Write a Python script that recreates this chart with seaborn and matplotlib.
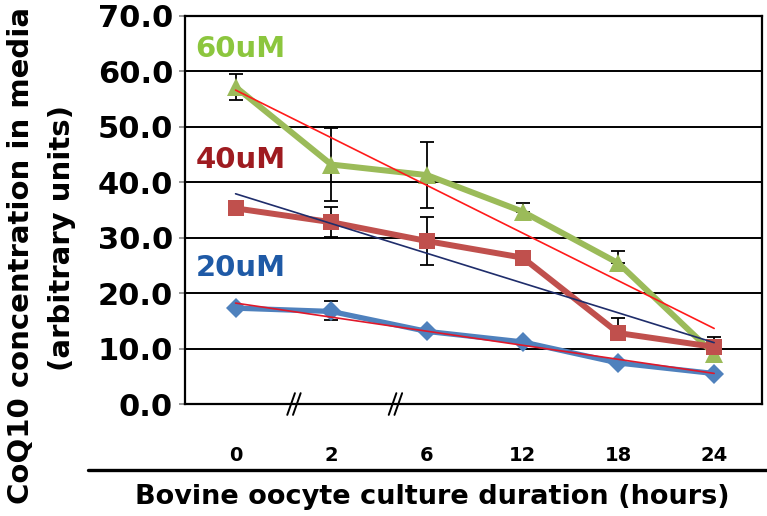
import numpy as np
import pandas as pd
import matplotlib
matplotlib.use("Agg")
import matplotlib.pyplot as plt
import matplotlib.transforms as mtransforms
from matplotlib.lines import Line2D
import seaborn as sns

# data
hours = ["0", "2", "6", "12", "18", "24"]
c60 = [57.2, 43.2, 41.3, 34.7, 25.4, 9.0]
c40 = [35.3, 32.8, 29.4, 26.4, 12.8, 10.3]
c20 = [17.3, 16.7, 13.1, 11.2, 7.4, 5.5]
err60_lo = [2.4, 6.6, 6.0, 0.0, 0.0, 0.0]
err60_hi = [2.4, 6.6, 6.0, 1.5, 2.2, 0.0]
err40_lo = [0.0, 2.7, 4.4, 0.0, 0.0, 0.0]
err40_hi = [0.0, 2.7, 4.3, 0.0, 2.8, 1.8]
err20_lo = [0.4, 1.6, 0.0, 0.0, 0.0, 0.0]
err20_hi = [0.4, 1.8, 0.0, 0.0, 0.0, 0.0]
y_ticks = [0, 10, 20, 30, 40, 50, 60, 70]

idx = np.arange(len(hours))
df = pd.DataFrame({"idx": idx, "c60": c60, "c40": c40, "c20": c20})

sns.set_style("white")
plt.rcParams['font.family'] = ['DejaVu Sans']
plt.rcParams['font.weight'] = 'bold'
plt.rcParams['text.color'] = 'black'
plt.rcParams['xtick.labelcolor'] = 'black'
plt.rcParams['ytick.labelcolor'] = 'black'

fig = plt.figure(figsize=(7.67, 5.16), dpi=100)
ax = fig.add_axes([0.241, 0.217, 0.7525, 0.752])

series = [
    ("c60", "#9BBB59", "^", 13, 4.3, err60_lo, err60_hi, "#FF1A1A"),
    ("c40", "#C0504D", "s", 12, 4.3, err40_lo, err40_hi, "#1F2D6B"),
    ("c20", "#4F81BD", "D", 10, 3.8, err20_lo, err20_hi, "#E0182A"),
]

# gridlines
for v in y_ticks[1:-1]:
    ax.axhline(v, color="black", lw=1.4, zorder=1)

for col, color, mk, ms, lw, elo, ehi, tcol in series:
    ax.errorbar(df["idx"], df[col], yerr=[elo, ehi], fmt="none",
                ecolor="black", elinewidth=1.3, capsize=5, capthick=1.3, zorder=2)
    sns.lineplot(data=df, x="idx", y=col, color=color, marker=mk,
                 markersize=ms, markeredgewidth=0, linewidth=lw, ax=ax, zorder=3)

for col, color, mk, ms, lw, elo, ehi, tcol in series:
    sns.regplot(data=df, x="idx", y=col, scatter=False, ci=None, truncate=True,
                line_kws={"color": tcol, "lw": 1.2, "zorder": 4}, ax=ax)

# concentration labels
ax.text(-0.42, 64.0, "60uM", color="#8CC63E", fontsize=21, fontweight="bold", va="center")
ax.text(-0.42, 44.0, "40uM", color="#9E1B20", fontsize=21, fontweight="bold", va="center")
ax.text(-0.42, 24.5, "20uM", color="#1F5AA6", fontsize=21, fontweight="bold", va="center")

ax.set_xlim(-0.53, 5.47)
ax.set_ylim(0, 70)
ax.set_yticks(y_ticks)
ax.set_yticklabels([f"{v:.1f}" for v in y_ticks], fontsize=22, fontweight="bold")
ax.set_xticks(idx)
ax.set_xticklabels(hours, fontsize=14, fontweight="bold")
ax.set_xticks(np.arange(-0.5, 6.0, 1.0), minor=True)
ax.tick_params(axis="x", which="major", length=0, pad=30)
ax.tick_params(axis="x", which="minor", length=6.5, width=1.2, color="#888888", direction="out")
ax.tick_params(axis="y", length=4.5, width=1.2, color="#888888", direction="out", pad=4, left=True)
ax.set_xlabel("")
ax.set_ylabel("")
for s in ax.spines.values():
    s.set_color("black")
    s.set_linewidth(1.6)
    s.set_visible(True)

# axis break marks
trans = mtransforms.blended_transform_factory(ax.transData, ax.transAxes)
for xb in [0.61, 1.67]:
    for off in [-0.03, 0.03]:
        ax.plot([xb + off - 0.04, xb + off + 0.04], [-0.028, 0.028], color="black",
                lw=1.4, transform=trans, clip_on=False, zorder=5)

# line above the x label
fig.add_artist(Line2D([0.115, 1.0], [0.089, 0.089], color="black", lw=2.4,
                      transform=fig.transFigure))
fig.text(0.563, 0.037, "Bovine oocyte culture duration (hours)", fontsize=19.5,
         fontweight="bold", ha="center", va="center", color="black")
fig.text(0.027, 0.505, "CoQ10 concentration in media", fontsize=21, fontweight="bold",
         rotation=90, ha="center", va="center", color="black")
fig.text(0.081, 0.539, "(arbitrary units)", fontsize=21, fontweight="bold",
         rotation=90, ha="center", va="center", color="black")

fig.savefig("out.png", dpi=100)
